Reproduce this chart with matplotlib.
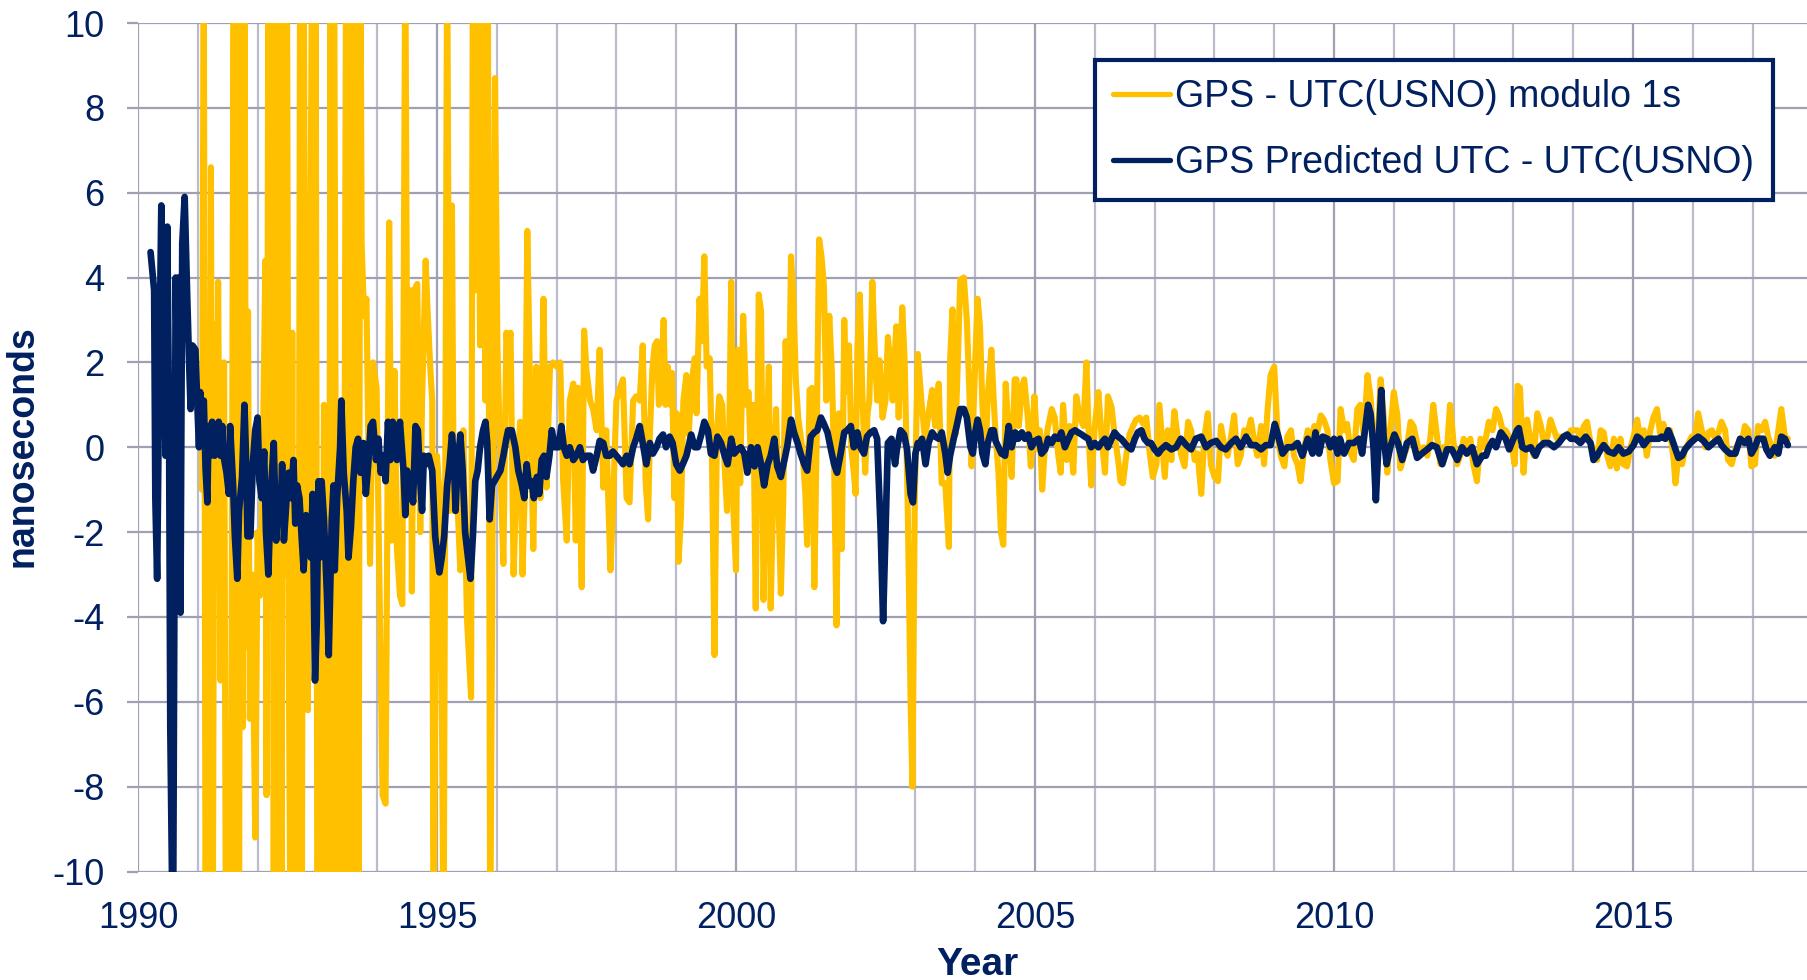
import matplotlib
matplotlib.use("Agg")
import matplotlib.pyplot as plt

# ---------------- data ----------------
gps_years = [
    1991.07, 1991.10, 1991.13, 1991.16, 1991.19, 1991.22, 1991.25, 1991.28, 1991.31, 1991.34,
    1991.38, 1991.41, 1991.44, 1991.47, 1991.51, 1991.55, 1991.60, 1991.63, 1991.66, 1991.69,
    1991.72, 1991.75, 1991.78, 1991.81, 1991.84, 1991.87, 1991.91, 1991.96, 1992.00, 1992.04,
    1992.08, 1992.13, 1992.15, 1992.18, 1992.21, 1992.24, 1992.27, 1992.30, 1992.33, 1992.36,
    1992.40, 1992.43, 1992.46, 1992.49, 1992.52, 1992.55, 1992.58, 1992.61, 1992.65, 1992.68,
    1992.71, 1992.74, 1992.77, 1992.81, 1992.84, 1992.88, 1992.91, 1992.94, 1992.97, 1993.00,
    1993.04, 1993.07, 1993.11, 1993.15, 1993.19, 1993.22, 1993.25, 1993.28, 1993.31, 1993.35,
    1993.38, 1993.42, 1993.45, 1993.48, 1993.51, 1993.54, 1993.57, 1993.60, 1993.63, 1993.66,
    1993.69, 1993.72, 1993.74, 1993.78, 1993.82, 1993.88, 1993.93, 1993.99, 1994.04, 1994.09,
    1994.14, 1994.20, 1994.24, 1994.29, 1994.33, 1994.38,
    1994.42, 1994.47, 1994.51, 1994.56, 1994.58, 1994.62, 1994.67, 1994.72, 1994.75, 1994.81,
    1994.84, 1994.89, 1994.92, 1994.94, 1995.00, 1995.06, 1995.11, 1995.17, 1995.21, 1995.25,
    1995.28, 1995.33, 1995.39, 1995.44, 1995.50, 1995.57, 1995.60, 1995.64, 1995.68, 1995.72,
    1995.77, 1995.81, 1995.85, 1995.89, 1995.97, 1996.01, 1996.06, 1996.11, 1996.16, 1996.19,
    1996.23, 1996.28, 1996.33, 1996.39, 1996.43, 1996.47, 1996.51, 1996.56, 1996.61, 1996.66,
    1996.69, 1996.73, 1996.78, 1996.83, 1996.89, 1996.94, 1997.00, 1997.06, 1997.11, 1997.17,
    1997.22, 1997.28, 1997.32, 1997.36, 1997.42, 1997.46, 1997.50, 1997.56, 1997.61, 1997.67,
    1997.72, 1997.78, 1997.83, 1997.90, 1997.94, 1998.00, 1998.06, 1998.11, 1998.17, 1998.22,
    1998.28, 1998.33,
    1998.39, 1998.44, 1998.49, 1998.53, 1998.56, 1998.60, 1998.64, 1998.68, 1998.71, 1998.75,
    1998.79, 1998.82, 1998.86, 1998.90, 1998.93, 1998.97, 1999.01, 1999.04, 1999.08, 1999.12,
    1999.17, 1999.21, 1999.25, 1999.31, 1999.34, 1999.39, 1999.43, 1999.47, 1999.51, 1999.56,
    1999.60, 1999.64, 1999.68, 1999.72, 1999.77, 1999.81, 1999.85, 1999.88, 1999.92, 1999.96,
    2000.00, 2000.03, 2000.07, 2000.12, 2000.17, 2000.21, 2000.25, 2000.29, 2000.33, 2000.38,
    2000.42, 2000.46, 2000.50, 2000.55, 2000.58, 2000.62, 2000.67, 2000.71, 2000.75, 2000.79,
    2000.83, 2000.88, 2000.92, 2000.96, 2001.00, 2001.04, 2001.11, 2001.16, 2001.19, 2001.23,
    2001.27, 2001.31, 2001.35, 2001.39, 2001.43, 2001.47, 2001.51, 2001.56, 2001.60, 2001.64,
    2001.68, 2001.72, 2001.77, 2001.81, 2001.84, 2001.89, 2001.93, 2001.97, 2002.00, 2002.03,
    2002.07, 2002.11, 2002.16, 2002.20, 2002.23, 2002.28, 2002.32, 2002.36, 2002.40, 2002.45,
    2002.50, 2002.54, 2002.58, 2002.62, 2002.68, 2002.72, 2002.78, 2002.82, 2002.87, 2002.92,
    2002.95, 2002.99, 2003.04,
    2003.10, 2003.16, 2003.21, 2003.28, 2003.33, 2003.39, 2003.44, 2003.50, 2003.56, 2003.58,
    2003.62, 2003.67, 2003.71, 2003.75, 2003.81, 2003.86, 2003.90, 2003.94, 2003.99, 2004.04,
    2004.08, 2004.12, 2004.17, 2004.21, 2004.27, 2004.31, 2004.34, 2004.39, 2004.43, 2004.47,
    2004.51, 2004.56, 2004.61, 2004.66, 2004.69, 2004.73, 2004.78, 2004.82, 2004.88, 2004.93,
    2004.99, 2005.04, 2005.08, 2005.12, 2005.17, 2005.22, 2005.28, 2005.33, 2005.39, 2005.43,
    2005.47, 2005.53, 2005.58, 2005.64, 2005.69, 2005.75, 2005.81, 2005.86, 2005.90, 2005.94,
    2006.00, 2006.06, 2006.11, 2006.17, 2006.22, 2006.28, 2006.33, 2006.39, 2006.43, 2006.47,
    2006.53, 2006.58, 2006.64, 2006.69, 2006.75, 2006.81, 2006.86, 2006.92, 2006.97, 2007.03,
    2007.08,
    2007.17, 2007.22, 2007.28, 2007.33, 2007.39, 2007.44, 2007.50, 2007.56, 2007.61, 2007.67,
    2007.72, 2007.78, 2007.83, 2007.89, 2007.94, 2008.00, 2008.06, 2008.11, 2008.17, 2008.22,
    2008.28, 2008.33, 2008.39, 2008.44, 2008.50, 2008.56, 2008.61, 2008.67, 2008.72, 2008.78,
    2008.83, 2008.89, 2008.94, 2009.00, 2009.06, 2009.11, 2009.17, 2009.22, 2009.28, 2009.33,
    2009.39, 2009.44, 2009.50, 2009.56, 2009.61, 2009.67, 2009.72, 2009.78, 2009.83, 2009.89,
    2009.94, 2010.00, 2010.06, 2010.11, 2010.17, 2010.22, 2010.28, 2010.33, 2010.39, 2010.44,
    2010.50, 2010.56, 2010.61, 2010.67, 2010.72, 2010.78, 2010.83, 2010.89, 2010.94, 2011.00,
    2011.06, 2011.11, 2011.17, 2011.22, 2011.28, 2011.33, 2011.39, 2011.44, 2011.50, 2011.56,
    2011.61, 2011.66, 2011.71, 2011.78, 2011.83, 2011.89, 2011.94, 2012.00, 2012.06, 2012.11,
    2012.17, 2012.22, 2012.28, 2012.33, 2012.39, 2012.45,
    2012.51, 2012.59, 2012.65, 2012.71, 2012.76, 2012.82, 2012.87, 2012.93, 2012.98, 2013.02,
    2013.07, 2013.11, 2013.17, 2013.23, 2013.29, 2013.34, 2013.40, 2013.46, 2013.51, 2013.57,
    2013.62, 2013.68, 2013.73, 2013.79, 2013.84, 2013.90, 2013.96, 2014.01, 2014.07, 2014.12,
    2014.18, 2014.23, 2014.29, 2014.34, 2014.40, 2014.46, 2014.51, 2014.57, 2014.62, 2014.68,
    2014.73, 2014.79, 2014.84, 2014.90, 2014.96, 2015.01, 2015.07, 2015.12, 2015.18, 2015.23,
    2015.29, 2015.34, 2015.40, 2015.46, 2015.51, 2015.57, 2015.62, 2015.68, 2015.71, 2015.76,
    2015.82, 2015.87, 2015.93, 2015.98, 2016.04, 2016.09, 2016.15, 2016.21, 2016.26, 2016.32,
    2016.37, 2016.43, 2016.48, 2016.54, 2016.59, 2016.65, 2016.71, 2016.76, 2016.82, 2016.87,
    2016.93, 2016.98, 2017.04, 2017.09, 2017.15, 2017.21, 2017.26, 2017.32, 2017.37, 2017.43,
    2017.48, 2017.54, 2017.59,
]
gps_ns = [
    -1.0, 12, -12, -2.0, -12, 6.6, -12, 2.9, -2.2, 3.9,
    -5.5, 0.5, 2.0, -12, -9.9, -12, 12, -12, 12, -12,
    12, -6.6, 12, -4.7, 3.2, -6.4, -3.0, -9.2, -2.0, -3.5,
    -1.0, 4.4, -8.2, 12, -2.0, 12, -12, 12, -12, 12,
    -12, 12, -3.0, 12, -4.6, -12, 2.7, -12, -4.0, -12,
    12, -12, 12, -3.0, -6.2, 3.3, 12, -1.0, 12, -12,
    -3.0, -12, 1.0, -2.5, -12, 12, -12, 12, -2.0, -12,
    1.0, -12, -3.0, 12, -12, 12, -12, 12, -12, 12,
    -10.5, 12, 4.8, 3.1, 3.5, -2.75, 2.0, 1.4, -3.4, -8.2,
    -8.4, 5.3, -2.2, 1.8, -2.4, -3.5,
    -3.7, 12, -1.5, 3.7, -3.4, 3.7, 3.85, -2.0, 1.1, 4.4,
    3.3, 1.8, 1.1, -12, -0.2, -1.5, -12, 12, -1.5, 5.7,
    -1.5, -0.9, -2.9, 0.4, -4.0, -5.9, 12, 3.7, 12, 2.4,
    12, 1.1, 12, -12, 8.7, 2.4, -0.4, -2.75, 2.7, 2.2,
    2.7, -3.0, -0.8, 0.6, -3.0, -0.9, 5.1, 1.1, -2.4, 1.9,
    -0.55, -1.2, 3.5, -0.95, 1.9, 2.0, 1.9, 2.0, -0.8, -2.2,
    1.1, 1.5, -2.2, 1.4, -3.3, 2.75, 1.8, 1.1, 0.9, 0.4,
    2.3, -0.95, 0.4, -2.9, -1.5, 1.1, 1.4, 1.6, -1.2, -1.3,
    1.1, 1.2,
    1.1, 2.4, -0.85, -1.7, 0.3, 1.8, 2.4, 2.5, 1.0, 1.4,
    3.0, 1.0, 1.9, 1.0, 1.75, -1.2, 0.8, -2.7, -1.6, 1.1,
    1.7, 0.3, 1.4, 2.1, 0.8, 3.5, 2.5, 4.5, 1.9, 2.1,
    -0.45, -4.9, 0.3, 1.2, 1.0, -0.45, -1.5, -0.45, 3.9, -1.6,
    -2.9, 2.3, -0.85, 3.1, 1.0, 1.3, -0.3, 1.0, -3.8, 3.6,
    3.2, -3.6, -0.45, 1.9, -3.8, -1.25, 0.9, -1.25, -3.45, -1.25,
    2.5, 0.3, 4.5, 3.5, 1.6, 0.7, -0.05, -1.1, -2.3, 1.35,
    1.4, -3.3, 0.3, 4.9, 4.5, 3.8, 1.1, 3.1, 1.9, -0.3,
    -4.2, 0.8, -2.4, 3.0, 1.3, 2.4, -0.05, -0.6, -1.1, 2.3,
    3.6, 1.4, -0.6, 0.8, 1.1, 3.9, 2.3, 1.1, 2.05, 0.7,
    1.1, 2.6, 2.0, 1.1, 2.85, 0.7, 3.3, 2.05, -1.25, -6.0,
    -8.0, -1.25, 2.2,
    1.1, 0.2, 0.7, 1.35, 0.5, 1.5, -0.85, -0.85, -2.35, 2.05,
    3.25, 0.3, 2.05, 3.95, 4.0, 3.0, 1.4, -0.45, 1.6, 3.5,
    2.85, 1.0, -0.3, 1.2, 2.3, 1.1, 0.3, -0.6, -2.0, -2.3,
    1.5, 0.3, -0.7, 1.6, 1.6, 0.5, 1.4, 1.6, 0.7, -0.45,
    1.2, -0.05, 0.4, -1.0, 0.1, 0.5, 0.9, 0.7, -0.2, -0.6,
    1.0, -0.3, 0.5, -0.6, 1.2, 0.7, 0.5, 2.0, 0.2, -0.9,
    0.5, 1.3, 0.3, -0.6, 1.2, 0.95, 0.3, -0.3, -0.8, -0.85,
    -0.15, 0.3, 0.5, 0.65, 0.7, 0.55, 0.7, -0.15, -0.7, -0.4,
    1.0,
    -0.7, 0.4, -0.3, 0.85, 0.2, -0.15, -0.45, 0.6, 0.4, -0.3,
    -0.15, -1.1, 0.2, 0.8, -0.4, -0.7, -0.8, 0.5, 0.0, -0.2,
    0.25, 0.75, -0.4, -0.2, 0.4, 0.35, 0.65, 0.1, -0.2, 0.5,
    -0.4, 0.9, 1.7, 1.9, 0.2, -0.2, -0.45, 0.25, 0.4, -0.2,
    -0.4, -0.8, -0.05, 0.4, 0.0, 0.5, 0.35, 0.75, 0.65, 0.4,
    -0.3, -0.85, -0.8, 0.9, 0.4, 0.55, -0.15, -0.3, 0.9, 1.0,
    0.25, 1.7, 1.2, 0.0, -0.15, 1.6, 0.75, -0.6, 0.35, 1.3,
    0.75, -0.5, -0.2, 0.0, 0.6, 0.5, 0.1, -0.2, 0.0, -0.2,
    0.2, 1.0, 0.4, -0.4, 0.0, -0.05, 1.0, 0.1, -0.4, -0.2,
    0.2, 0.0, 0.2, -0.4, -0.8, 0.2,
    0.0, 0.6, 0.4, 0.9, 0.75, 0.4, 0.4, 0.25, 0.0, -0.4,
    1.45, 1.4, -0.6, 0.65, 0.1, -0.2, 0.8, 0.5, 0.1, 0.25,
    0.65, 0.4, 0.2, 0.25, 0.25, 0.25, 0.4, 0.4, 0.4, 0.25,
    0.5, 0.6, 0.1, -0.05, -0.3, 0.4, 0.35, -0.2, -0.45, 0.2,
    -0.5, 0.2, -0.4, -0.45, 0.0, 0.25, 0.65, 0.2, 0.4, -0.2,
    0.4, 0.7, 0.9, 0.25, 0.55, 0.2, 0.4, -0.3, -0.85, -0.2,
    -0.4, -0.05, 0.1, 0.25, 0.25, 0.8, 0.4, 0.0, 0.35, 0.4,
    0.2, 0.35, 0.6, 0.4, -0.3, -0.4, -0.05, 0.1, 0.1, 0.5,
    0.4, -0.45, -0.4, 0.5, 0.4, 0.6, 0.25, 0.0, -0.2, 0.4,
    0.9, 0.25, 0.2,
]

pred_years = [
    1990.21, 1990.27, 1990.29, 1990.32, 1990.35, 1990.39, 1990.43, 1990.46, 1990.49, 1990.52,
    1990.54, 1990.57, 1990.59, 1990.63, 1990.66, 1990.68, 1990.71, 1990.74, 1990.78, 1990.82,
    1990.85, 1990.88, 1990.91, 1990.96, 1990.99, 1991.02, 1991.04, 1991.07, 1991.10, 1991.13,
    1991.16, 1991.18, 1991.21, 1991.24, 1991.28, 1991.32, 1991.35, 1991.38, 1991.41, 1991.43,
    1991.48, 1991.52, 1991.54, 1991.59, 1991.62, 1991.66, 1991.69, 1991.74, 1991.78, 1991.81,
    1991.83, 1991.88, 1991.92, 1991.96, 1992.00, 1992.03, 1992.07, 1992.11, 1992.14, 1992.18,
    1992.22, 1992.27, 1992.31, 1992.35, 1992.38, 1992.41, 1992.44, 1992.49, 1992.52, 1992.56,
    1992.60, 1992.63, 1992.66, 1992.70, 1992.74, 1992.77, 1992.81, 1992.85, 1992.89, 1992.92,
    1992.96, 1992.99, 1993.02, 1993.04, 1993.07, 1993.11, 1993.16, 1993.19, 1993.24, 1993.27,
    1993.29, 1993.33, 1993.38, 1993.40, 1993.44, 1993.49, 1993.52, 1993.56, 1993.60, 1993.64,
    1993.68, 1993.72, 1993.77, 1993.81, 1993.85, 1993.89, 1993.93, 1993.98, 1994.02, 1994.06,
    1994.10, 1994.14, 1994.18, 1994.22, 1994.26, 1994.29, 1994.33, 1994.38,
    1994.44, 1994.47, 1994.50, 1994.53, 1994.56, 1994.60, 1994.64, 1994.68, 1994.71, 1994.75,
    1994.78, 1994.82, 1994.86, 1994.92, 1994.97, 1995.01, 1995.04, 1995.08, 1995.12, 1995.17,
    1995.21, 1995.25, 1995.28, 1995.31, 1995.34, 1995.39, 1995.43, 1995.47, 1995.51, 1995.56,
    1995.60, 1995.64, 1995.68, 1995.72, 1995.77, 1995.81, 1995.84, 1995.88, 1995.92, 1995.96,
    1996.00, 1996.06, 1996.11, 1996.16, 1996.19, 1996.25, 1996.31, 1996.36, 1996.42, 1996.46,
    1996.50, 1996.54, 1996.58, 1996.62, 1996.67, 1996.71, 1996.75, 1996.79, 1996.83, 1996.88,
    1996.92, 1996.97, 1997.03, 1997.08, 1997.12, 1997.17, 1997.22, 1997.28, 1997.33, 1997.39,
    1997.44, 1997.50, 1997.56, 1997.61, 1997.67, 1997.72, 1997.78, 1997.83, 1997.89, 1997.94,
    1998.00, 1998.06, 1998.11, 1998.17, 1998.22, 1998.28, 1998.33,
    1998.39, 1998.44, 1998.50, 1998.56, 1998.61, 1998.67, 1998.72, 1998.78, 1998.83, 1998.89,
    1998.94, 1999.00, 1999.06, 1999.11, 1999.17, 1999.22, 1999.25, 1999.31, 1999.36, 1999.42,
    1999.47, 1999.53, 1999.58, 1999.64, 1999.69, 1999.75, 1999.81, 1999.86, 1999.92, 1999.97,
    2000.03, 2000.08, 2000.14, 2000.19, 2000.25, 2000.31, 2000.36, 2000.42, 2000.47, 2000.53,
    2000.58, 2000.64, 2000.69, 2000.75, 2000.81, 2000.86, 2000.92, 2000.97, 2001.03, 2001.08,
    2001.14, 2001.19, 2001.25, 2001.31, 2001.36, 2001.42, 2001.47, 2001.53, 2001.58, 2001.64,
    2001.69, 2001.75, 2001.81, 2001.86, 2001.92, 2001.97, 2002.03, 2002.08, 2002.14, 2002.19,
    2002.25, 2002.31, 2002.36, 2002.42, 2002.46, 2002.50, 2002.54, 2002.60, 2002.66, 2002.69,
    2002.75, 2002.81, 2002.86, 2002.92, 2002.96, 2003.00, 2003.04,
    2003.06, 2003.11, 2003.17, 2003.22, 2003.28, 2003.33, 2003.39, 2003.44, 2003.50, 2003.54,
    2003.58, 2003.64, 2003.69, 2003.75, 2003.81, 2003.86, 2003.92, 2003.96, 2004.00, 2004.04,
    2004.08, 2004.12, 2004.17, 2004.21, 2004.27, 2004.31, 2004.34, 2004.39, 2004.44, 2004.50,
    2004.56, 2004.61, 2004.67, 2004.72, 2004.78, 2004.83, 2004.89, 2004.94, 2005.00, 2005.06,
    2005.11, 2005.17, 2005.22, 2005.28, 2005.33, 2005.39, 2005.44, 2005.50, 2005.56, 2005.61,
    2005.67, 2005.72, 2005.78, 2005.83, 2005.89, 2005.94, 2006.00, 2006.06, 2006.11, 2006.17,
    2006.22, 2006.28, 2006.33, 2006.39, 2006.44, 2006.50, 2006.56, 2006.61, 2006.67, 2006.72,
    2006.78, 2006.83, 2006.89, 2006.94, 2007.00, 2007.06, 2007.11,
    2007.19, 2007.28, 2007.36, 2007.44, 2007.53, 2007.61, 2007.69, 2007.78, 2007.86, 2007.94,
    2008.03, 2008.11, 2008.19, 2008.28, 2008.36, 2008.44, 2008.53, 2008.61, 2008.69, 2008.78,
    2008.86, 2008.94, 2009.01, 2009.07, 2009.14, 2009.22, 2009.31, 2009.39, 2009.47, 2009.56,
    2009.64, 2009.69, 2009.75, 2009.81, 2009.89, 2009.94, 2010.00, 2010.06, 2010.10, 2010.17,
    2010.25, 2010.33, 2010.42, 2010.47, 2010.53, 2010.57, 2010.61, 2010.66, 2010.70, 2010.74,
    2010.79, 2010.83, 2010.88, 2010.94, 2011.01, 2011.07, 2011.14, 2011.22, 2011.31, 2011.39,
    2011.47, 2011.56, 2011.64, 2011.72, 2011.81, 2011.89, 2011.97, 2012.06, 2012.14, 2012.22,
    2012.31, 2012.39,
    2012.48, 2012.54, 2012.59, 2012.65, 2012.71, 2012.79, 2012.87, 2012.93, 2013.00, 2013.06,
    2013.09, 2013.15, 2013.21, 2013.29, 2013.37, 2013.43, 2013.51, 2013.59, 2013.68, 2013.76,
    2013.84, 2013.90, 2013.96, 2014.04, 2014.12, 2014.21, 2014.29, 2014.34, 2014.40, 2014.46,
    2014.51, 2014.59, 2014.68, 2014.76, 2014.84, 2014.93, 2015.01, 2015.07, 2015.12, 2015.18,
    2015.26, 2015.34, 2015.43, 2015.48, 2015.54, 2015.59, 2015.65, 2015.71, 2015.76, 2015.82,
    2015.87, 2015.96, 2016.04, 2016.09, 2016.18, 2016.26, 2016.34, 2016.43, 2016.48, 2016.54,
    2016.62, 2016.71, 2016.79, 2016.87, 2016.93, 2016.98, 2017.04, 2017.09, 2017.18, 2017.23,
    2017.29, 2017.37, 2017.43, 2017.48, 2017.54, 2017.59,
]
pred_ns = [
    4.6, 3.7, -1.2, -3.1, 1.1, 5.7, 2.7, -0.2, 5.2, 0.4,
    -6.6, -10.3, -10.2, 4.0, 1.1, 4.0, -3.9, 4.8, 5.9, 3.7,
    2.2, 0.9, 2.4, 2.3, 1.1, 0.0, 1.3, 0.1, 1.1, -0.5,
    -1.3, 0.5, -0.2, 0.6, -0.2, 0.0, 0.6, -0.2, 0.5, -0.2,
    -0.6, -1.1, 0.5, -0.9, -2.1, -3.1, -1.5, -0.7, 1.0, -0.4,
    -2.1, -2.1, -0.4, 0.4, 0.7, -0.8, -1.2, -0.1, -2.0, -3.0,
    -1.1, 0.1, -2.2, -1.1, -1.8, -0.4, -2.2, -1.1, -0.6, -1.2,
    -0.3, -1.8, -0.9, -1.2, -2.2, -2.9, -1.6, -2.4, -2.6, -1.1,
    -5.5, -4.1, -0.8, -2.6, -0.8, -1.7, -3.5, -4.9, -1.7, -0.9,
    -2.9, -1.2, 0.0, 1.1, -0.6, -1.5, -2.6, -1.9, -0.8, 0.0,
    0.2, -0.6, 0.1, -1.1, -0.4, 0.5, 0.6, -0.3, 0.2, -0.6,
    -0.2, -0.8, 0.6, -0.3, 0.6, 0.1, -0.3, 0.6,
    -0.55, -1.6, -0.55, -1.2, -0.7, -1.3, 0.5, 0.4, -0.55, -1.5,
    -0.2, -0.4, -0.2, -0.55, -2.1, -2.6, -2.95, -2.6, -2.1, -0.9,
    -0.4, 0.3, -0.2, -1.5, -0.55, 0.3, -0.55, -2.0, -2.5, -3.1,
    -2.1, -0.8, -0.55, 0.0, 0.4, 0.6, 0.1, -1.7, -0.9, -0.8,
    -0.7, -0.55, -0.2, 0.2, 0.4, 0.4, 0.0, -0.55, -0.9, -1.2,
    -0.4, -0.9, -0.8, -1.2, -0.7, -1.1, -0.3, -0.2, -0.7, -0.2,
    0.4, 0.0, 0.0, 0.5, 0.0, -0.2, 0.0, -0.3, -0.2, 0.0,
    -0.3, -0.2, -0.2, -0.55, -0.2, 0.15, 0.1, -0.2, -0.2, -0.1,
    -0.2, -0.3, -0.4, -0.2, -0.4, 0.0, 0.2,
    0.5, 0.1, -0.4, 0.1, -0.15, 0.0, 0.2, 0.3, 0.0, 0.25,
    0.1, -0.4, -0.55, -0.4, -0.2, 0.1, 0.3, 0.0, 0.0, 0.3,
    0.6, 0.4, -0.15, -0.2, 0.25, 0.1, -0.2, -0.4, 0.2, -0.15,
    -0.05, 0.0, -0.15, -0.6, 0.0, -0.45, 0.0, -0.4, -0.9, -0.4,
    -0.2, 0.2, -0.45, -0.7, -0.3, 0.05, 0.65, 0.35, 0.1, -0.15,
    -0.4, -0.55, 0.25, 0.35, 0.4, 0.7, 0.55, 0.35, 0.0, -0.4,
    -0.6, -0.15, 0.35, 0.4, 0.5, 0.0, 0.35, 0.0, -0.15, 0.25,
    0.35, 0.4, 0.2, -2.0, -4.1, -2.0, 0.1, 0.2, -0.4, -0.05,
    0.4, 0.3, -0.05, -1.1, -1.3, -0.15, 0.1,
    0.0, 0.2, -0.4, 0.1, 0.35, 0.25, 0.2, 0.35, -0.15, -0.6,
    -0.2, 0.2, 0.5, 0.9, 0.9, 0.7, 0.0, -0.15, 0.35, 0.65,
    0.4, -0.15, -0.4, 0.1, 0.4, 0.4, 0.15, 0.0, -0.15, -0.2,
    0.5, 0.0, 0.35, 0.2, 0.35, 0.2, 0.3, 0.0, 0.15, 0.2,
    -0.15, -0.05, 0.2, 0.1, 0.25, 0.2, 0.35, 0.0, 0.2, 0.35,
    0.4, 0.35, 0.3, 0.25, 0.2, 0.0, 0.1, 0.0, 0.1, 0.2,
    0.0, 0.2, 0.35, 0.25, 0.2, 0.1, 0.0, -0.05, 0.2, 0.35,
    0.4, 0.2, 0.1, 0.1, -0.05, -0.15, -0.05,
    0.05, -0.05, 0.0, 0.2, 0.05, -0.05, 0.2, 0.25, 0.0, 0.1,
    0.15, 0.0, -0.05, 0.1, 0.2, 0.0, 0.25, 0.05, 0.05, -0.05,
    0.05, 0.05, 0.55, 0.25, -0.15, 0.0, 0.0, 0.1, -0.2, 0.2,
    -0.15, 0.35, -0.15, 0.25, 0.2, 0.0, 0.2, -0.15, 0.2, -0.15,
    0.1, 0.1, 0.2, -0.15, 0.55, 1.0, 0.8, 0.0, -1.25, -0.05,
    1.35, 0.25, -0.4, 0.0, 0.3, 0.1, -0.3, 0.1, 0.2, -0.25,
    -0.15, -0.05, 0.05, 0.0, -0.4, -0.05, -0.05, -0.3, 0.0, -0.15,
    0.0, -0.4,
    -0.2, -0.2, 0.0, 0.15, 0.0, 0.35, 0.2, -0.05, 0.2, 0.4,
    0.45, 0.0, -0.05, 0.0, -0.2, 0.0, 0.1, 0.1, 0.0, 0.1,
    0.25, 0.3, 0.2, 0.2, 0.1, 0.25, 0.1, -0.3, -0.2, -0.05,
    0.05, -0.1, -0.15, 0.0, -0.15, -0.1, 0.05, 0.25, 0.2, 0.05,
    0.2, 0.2, 0.2, 0.25, 0.2, 0.4, 0.2, -0.05, -0.25, -0.2,
    -0.05, 0.1, 0.2, 0.25, 0.15, 0.0, 0.1, 0.2, 0.05, -0.05,
    -0.15, -0.15, 0.2, 0.1, 0.2, -0.15, 0.0, 0.2, 0.2, -0.05,
    -0.2, 0.0, -0.15, 0.25, 0.2, 0.05,
]

x_ticks = [1990, 1995, 2000, 2005, 2010, 2015]
y_ticks = [10, 8, 6, 4, 2, 0, -2, -4, -6, -8, -10]
label_gps = "GPS - UTC(USNO) modulo 1s"
label_pred = "GPS Predicted UTC - UTC(USNO)"

# ---------------- styling ----------------
NAVY = "#002060"
GOLD = "#FFC000"
GRID_H = "#9FA0B4"
GRID_V = "#BBBCCB"
GRID_V5 = "#A0A1B5"

plt.rcParams["font.family"] = ["Liberation Sans", "DejaVu Sans"]

W, H = 1808, 980
fig = plt.figure(figsize=(W / 100, H / 100), dpi=100)
ax_left, ax_top, ax_bottom = 138, 23, 871.5
ax = fig.add_axes([ax_left / W, 1 - ax_bottom / H, 1 - ax_left / W, (ax_bottom - ax_top) / H])

ax.set_xlim(1990, 1990 + (W - ax_left) / 59.8)
ax.set_ylim(-10, 10)

# grid
for yr in range(1990, 2018):
    c = GRID_V5 if yr % 5 == 0 else GRID_V
    ax.axvline(yr, color=c, lw=1.6, zorder=0)
for yv in y_ticks:
    ax.axhline(yv, color=GRID_H, lw=1.6, zorder=0)

ax.plot(gps_years, gps_ns, color=GOLD, lw=4.4, solid_joinstyle="round",
        solid_capstyle="round", zorder=2, label=label_gps)
ax.plot(pred_years, pred_ns, color=NAVY, lw=4.8, solid_joinstyle="round",
        solid_capstyle="round", zorder=3, label=label_pred)

for s in ax.spines.values():
    s.set_visible(False)

ax.set_xticks(x_ticks)
ax.set_xticklabels([str(t) for t in x_ticks])
ax.set_yticks(y_ticks)
ax.set_yticklabels([str(t) for t in y_ticks])
ax.tick_params(axis="x", length=0, pad=21, labelsize=26, labelcolor=NAVY)
ax.tick_params(axis="y", length=8, width=1.6, color=GRID_H, direction="out",
               pad=16, labelsize=26, labelcolor=NAVY)

fig.text(977 / W, 1 - 975 / H, "Year", fontsize=28, fontweight="bold", color=NAVY,
         ha="center", va="baseline")
fig.text(23 / W, 1 - 446 / H, "nanoseconds", fontsize=27, fontweight="bold", color=NAVY,
         ha="center", va="center", rotation=90)

leg = ax.legend(loc="upper right",
                bbox_to_anchor=((1773 - ax_left) / (W - ax_left), 1 - (60 - ax_top) / (ax_bottom - ax_top)),
                fontsize=27, frameon=True, fancybox=False, framealpha=1,
                edgecolor=NAVY, handlelength=1.5, handletextpad=0.15,
                borderpad=0.5, labelspacing=0.8, borderaxespad=0)
leg.get_frame().set_linewidth(3)
for line in leg.get_lines():
    line.set_linewidth(3.8)
for t in leg.get_texts():
    t.set_color(NAVY)
leg.set_zorder(10)

fig.savefig("out.png", dpi=100)
